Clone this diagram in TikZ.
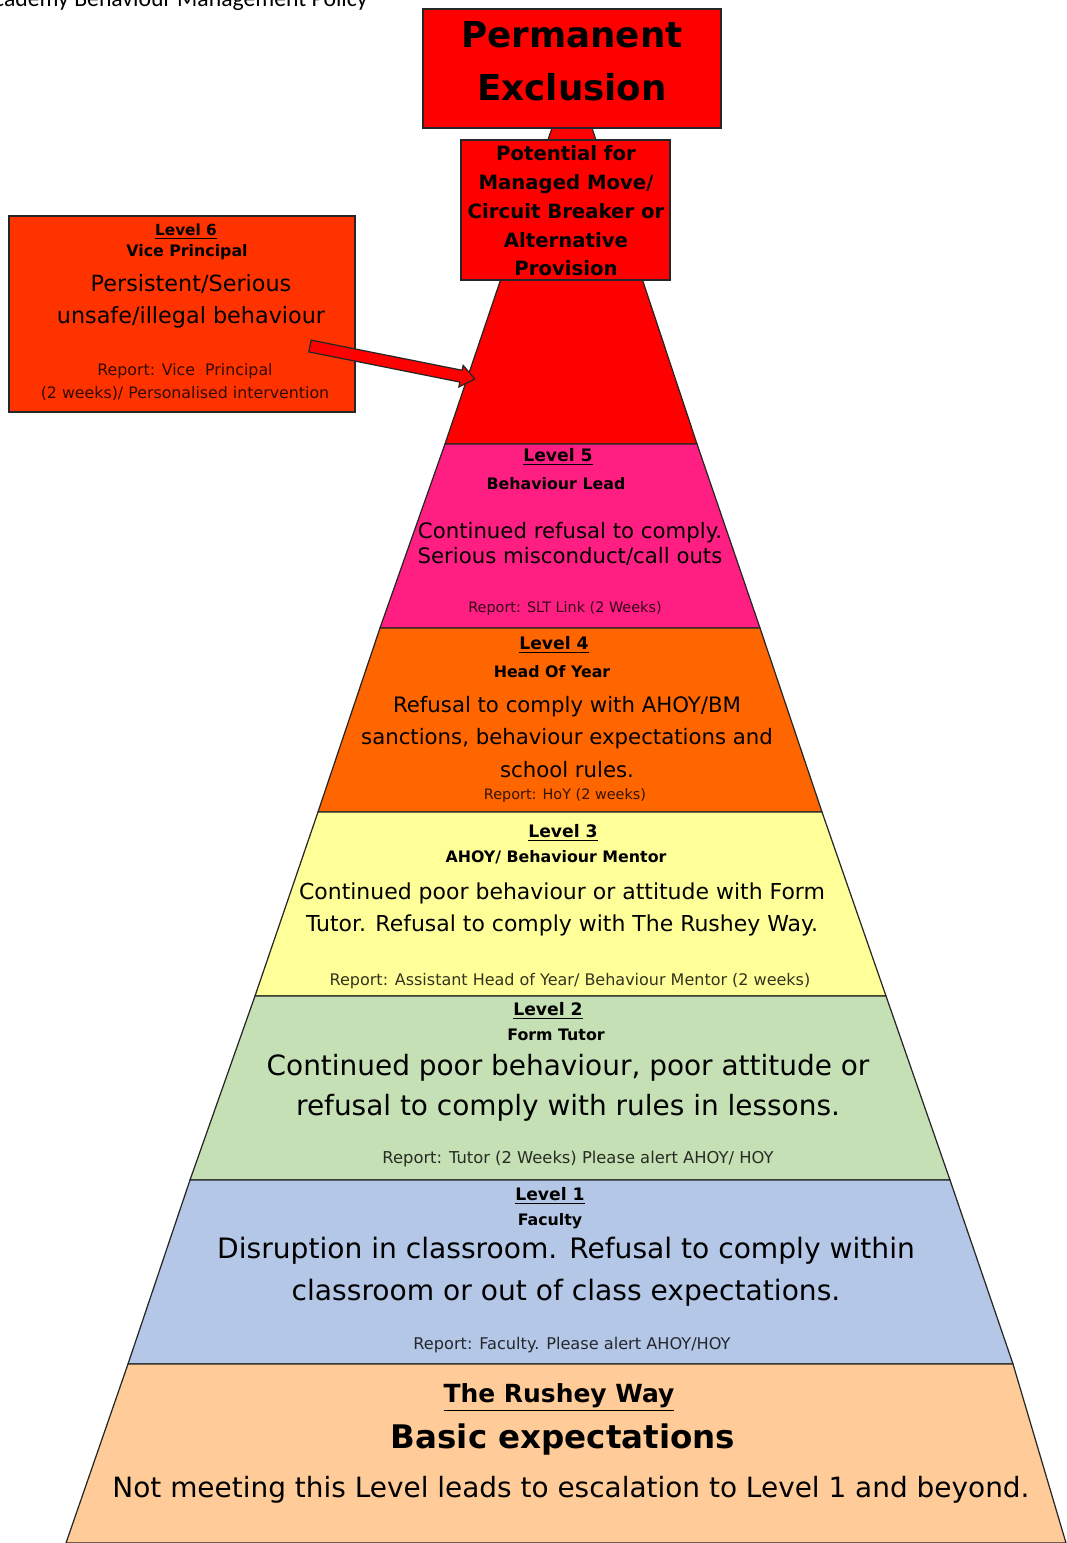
\documentclass[tikz,border=0pt]{standalone}
\usepackage{fontspec}
\setmainfont{DejaVu Sans}
\newfontfamily\carlito{Carlito}
\definecolor{exred}{HTML}{FF0000}
\definecolor{lvsix}{HTML}{FF3300}
\definecolor{lvfive}{HTML}{FF1F82}
\definecolor{lvfour}{HTML}{FF6600}
\definecolor{lvthree}{HTML}{FFFF99}
\definecolor{lvtwo}{HTML}{C5E0B4}
\definecolor{lvone}{HTML}{B4C7E7}
\definecolor{lvbase}{HTML}{FFCC99}
\newcommand{\fs}[2]{\fontsize{#1}{#2}\selectfont}
\newcommand{\lv}[1]{\underline{Level #1}}
\begin{document}
\begin{tikzpicture}[x=0.02cm,y=-0.02cm,
    band/.style={draw=black!85,line width=0.7pt},
    lvl/.style={inner sep=0pt,font=\bfseries\fs{9.8}{12}},
    role/.style={inner sep=0pt,font=\bfseries\fs{9}{11}},
    desc/.style={inner sep=0pt,align=center},
    rpt/.style={inner sep=0pt,align=center,font=\fs{8.2}{10},text opacity=0.8}]
    \useasboundingbox(0,0)rectangle(1066,1543);
    \node[anchor=base east,inner sep=0pt,font=\carlito\fs{13.5}{16}](hdr)at(368,6){Academy Behaviour Management Policy};
    % pyramid bands, top to bottom
    \filldraw[band,fill=exred](552,128)--(592,128)--(697,444)--(445,444)--cycle;
    \foreach \ya/\la/\ra/\yb/\lb/\rb/\c in {444/445/697/628/380/760/lvfive,
        628/380/760/812/318/822/lvfour, 812/318/822/996/255/886/lvthree,
        996/255/886/1180/190/950/lvtwo, 1180/190/950/1364/128/1013/lvone,
        1364/128/1013/1543/66/1066/lvbase}
        \filldraw[band,fill=\c](\la,\ya)--(\ra,\ya)--(\rb,\yb)--(\lb,\yb)--cycle;
    % boxes on top
    \filldraw[band,fill=exred](423,9)rectangle(721,128);
    \node[desc,font=\bfseries\fs{20.3}{30}](perm)at(572,61){Permanent\\Exclusion};
    \filldraw[band,fill=exred](461,140)rectangle(670,280);
    \node[desc,font=\bfseries\fs{11.2}{16.4}](move)at(566,211){Potential for\\Managed Move/\\Circuit Breaker or\\Alternative\\Provision};
    \filldraw[band,fill=lvsix](9,216)rectangle(355,412);
    \node[lvl,font=\bfseries\fs{8.7}{11}](l6)at(186,232){\lv{6}};
    \node[role](l6r)at(187,252){Vice Principal};
    \node[desc,font=\fs{12.7}{18.2}](l6d)at(191,301){Persistent/Serious\\unsafe/illegal behaviour};
    \node[rpt,font=\fs{9}{13.6}](l6p)at(185,382){Report: Vice~ Principal\\(2 weeks)/ Personalised intervention};
    % arrow from level 6 box into the top band
    \coordinate(l6tail)at(310,346);
    \begin{scope}[shift={(l6tail)},rotate=-11.3]
        \filldraw[fill=exred,draw=black!85,line width=0.7pt](0,-6)--(154,-6)--(154,-11)--(168,0)--(154,11)--(154,6)--(0,6)--cycle;
    \end{scope}
    % level 5
    \node[lvl](l5)at(558,457){\lv{5}};
    \node[role](l5r)at(556,484){Behaviour Lead};
    \node[desc,font=\fs{12.1}{14.2}](l5d)at(570,544){Continued refusal to comply.\\Serious misconduct/call outs};
    \node[rpt](l5p)at(565,609){Report: SLT Link (2 Weeks)};
    % level 4
    \node[lvl](l4)at(554,645){\lv{4}};
    \node[role](l4r)at(552,672){Head Of Year};
    \node[desc,font=\fs{12.1}{18.5}](l4d)at(567,737){Refusal to comply with AHOY/BM\\sanctions, behaviour expectations and\\school rules.};
    \node[rpt](l4p)at(565,796){Report: HoY (2 weeks)};
    % level 3
    \node[lvl](l3)at(563,833){\lv{3}};
    \node[role](l3r)at(556,857){AHOY/ Behaviour Mentor};
    \node[desc,font=\fs{12.5}{18.2}](l3d)at(562,909){Continued poor behaviour or attitude with Form\\Tutor. Refusal to comply with The Rushey Way.};
    \node[rpt,font=\fs{9.1}{11}](l3p)at(570,981){Report: Assistant Head of Year/ Behaviour Mentor (2 weeks)};
    % level 2
    \node[lvl](l2)at(548,1011){\lv{2}};
    \node[role](l2r)at(556,1035){Form Tutor};
    \node[desc,font=\fs{15.9}{22.8}](l2d)at(568,1088){Continued poor behaviour, poor attitude or\\refusal to comply with rules in lessons.};
    \node[rpt,font=\fs{9.3}{11}](l2p)at(578,1159){Report: Tutor (2 Weeks) Please alert AHOY/ HOY};
    % level 1
    \node[lvl](l1)at(550,1196){\lv{1}};
    \node[role](l1r)at(550,1221){Faculty};
    \node[desc,font=\fs{16}{23.9}](l1d)at(566,1272){Disruption in classroom. Refusal to comply within\\classroom or out of class expectations.};
    \node[rpt,font=\fs{9.2}{11}](l1p)at(572,1345){Report: Faculty. Please alert AHOY/HOY};
    % base
    \node[lvl,font=\bfseries\fs{14.2}{17}](l0)at(559,1397){\underline{The Rushey Way}};
    \node[role,font=\bfseries\fs{18.5}{22}](l0r)at(563,1440){Basic expectations};
    \node[desc,font=\fs{15.9}{19}](l0d)at(571,1490){Not meeting this Level leads to escalation to Level 1 and beyond.};
\end{tikzpicture}
\end{document}
